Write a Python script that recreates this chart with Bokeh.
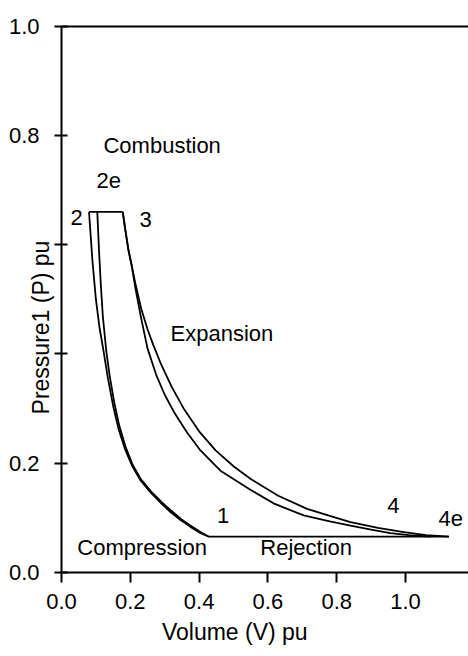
import numpy as np
from bokeh.plotting import figure
from bokeh.models import Label, Range1d, FixedTicker, LinearAxis
from bokeh.embed import file_html
from bokeh.resources import INLINE

# ---- data (V in pu, P in pu) ----
comp_a_v = [0.080, 0.090, 0.100, 0.110, 0.122, 0.135, 0.150, 0.166, 0.185, 0.205, 0.230, 0.259, 0.290, 0.317, 0.345, 0.375, 0.400, 0.428]
comp_a_p = [0.660, 0.570, 0.500, 0.450, 0.406, 0.355, 0.305, 0.262, 0.225, 0.195, 0.168, 0.146, 0.126, 0.110, 0.096, 0.083, 0.073, 0.065]

comp_b_v = [0.104, 0.109, 0.114, 0.120, 0.130, 0.140, 0.153, 0.168, 0.186, 0.206, 0.231, 0.260, 0.292, 0.320, 0.348, 0.378, 0.403, 0.428]
comp_b_p = [0.660, 0.590, 0.530, 0.470, 0.406, 0.360, 0.312, 0.268, 0.230, 0.198, 0.170, 0.148, 0.128, 0.112, 0.097, 0.084, 0.074, 0.065]

exp_a_v = [0.178, 0.186, 0.194, 0.204, 0.215, 0.230, 0.250, 0.275, 0.300, 0.330, 0.365, 0.404, 0.462, 0.549, 0.620, 0.704, 0.780, 0.840, 0.900, 0.956, 1.010, 1.073]
exp_a_p = [0.660, 0.625, 0.592, 0.562, 0.520, 0.470, 0.410, 0.362, 0.325, 0.290, 0.256, 0.223, 0.186, 0.151, 0.125, 0.104, 0.093, 0.0855, 0.078, 0.0714, 0.068, 0.065]

exp_b_v = [0.178, 0.186, 0.194, 0.204, 0.216, 0.232, 0.250, 0.267, 0.290, 0.320, 0.355, 0.400, 0.448, 0.500, 0.549, 0.630, 0.714, 0.780, 0.840, 0.920, 0.995, 1.060, 1.126]
exp_b_p = [0.660, 0.625, 0.592, 0.562, 0.525, 0.482, 0.445, 0.416, 0.380, 0.340, 0.300, 0.258, 0.223, 0.194, 0.171, 0.140, 0.116, 0.103, 0.0916, 0.081, 0.0733, 0.068, 0.065]

comb_v = [0.080, 0.178]
comb_p = [0.660, 0.660]

rej_v = [0.428, 1.126]
rej_p = [0.065, 0.065]

x_ticks = [0.0, 0.2, 0.4, 0.6, 0.8, 1.0]
x_tick_labels = ["0.0", "0.2", "0.4", "0.6", "0.8", "1.0"]
y_ticks = [0.0, 0.2, 0.4, 0.6, 0.8, 1.0]
y_tick_labels = ["0.0", "0.2", "", "", "0.8", "1.0"]

point_names = ["2", "2e", "3", "1", "4", "4e"]
point_v = [0.026, 0.102, 0.227, 0.452, 0.947, 1.096]
point_p = [0.649, 0.717, 0.646, 0.103, 0.122, 0.099]

phase_names = ["Combustion", "Expansion", "Compression", "Rejection"]
phase_v = [0.122, 0.317, 0.046, 0.578]
phase_p = [0.781, 0.437, 0.046, 0.046]

x_title = "Volume (V)  pu"
y_title = "Pressure1 (P)  pu"

FONT = "Liberation Sans"
FS = "22px"
FS_TICK = "22px"
FS_TITLE = "23px"

X0, X1 = -0.1773, 1.1831
Y0, Y1 = -0.1544, 1.0471

p = figure(width=468, height=656, x_range=Range1d(X0, X1), y_range=Range1d(Y0, Y1),
           output_backend="svg", toolbar_location=None, title=None,
           x_axis_location=None, y_axis_location=None,
           min_border_left=0, min_border_right=0, min_border_top=0, min_border_bottom=0)
p.outline_line_color = None
p.grid.visible = False
p.background_fill_color = "white"
p.border_fill_color = "white"


def style_axis(ax):
    ax.axis_line_width = 2
    ax.axis_line_color = "black"
    ax.major_tick_line_width = 2
    ax.major_tick_line_color = "black"
    ax.minor_tick_line_color = None
    ax.major_label_text_font = FONT
    ax.major_label_text_font_size = FS_TICK
    ax.major_label_text_color = "black"


xa = LinearAxis(fixed_location=0.0, bounds=(0.0, X1), ticker=FixedTicker(ticks=x_ticks),
                major_label_overrides={t: l for t, l in zip(x_ticks, x_tick_labels)},
                major_tick_in=0, major_tick_out=10, major_label_standoff=12)
style_axis(xa)
p.add_layout(xa, "below")

ya = LinearAxis(fixed_location=0.0, bounds=(0.0, 1.0), ticker=FixedTicker(ticks=y_ticks),
                major_label_overrides={t: l for t, l in zip(y_ticks, y_tick_labels)},
                major_tick_in=6, major_tick_out=7, major_label_standoff=15)
style_axis(ya)
p.add_layout(ya, "left")

ta = LinearAxis(fixed_location=1.0, bounds=(0.0, X1), ticker=FixedTicker(ticks=[]))
style_axis(ta)
p.add_layout(ta, "above")

LW = 1.8
for xs, ys in [(comp_a_v, comp_a_p), (comp_b_v, comp_b_p), (exp_a_v, exp_a_p),
               (exp_b_v, exp_b_p), (comb_v, comb_p), (rej_v, rej_p)]:
    p.line(xs, ys, line_color="black", line_width=LW)

for t, x, y in zip(point_names + phase_names, point_v + phase_v, point_p + phase_p):
    p.add_layout(Label(x=x, y=y, text=t, text_font=FONT, text_font_size=FS,
                       text_align="left", text_baseline="middle", text_color="black"))

p.add_layout(Label(x=0.513, y=-0.110, text=x_title, text_font=FONT, text_font_size=FS_TITLE,
                   text_align="center", text_baseline="middle", text_color="black"))
p.add_layout(Label(x=-0.061, y=0.454, text=y_title, text_font=FONT, text_font_size=FS_TITLE,
                   angle=np.pi / 2, text_align="center", text_baseline="middle", text_color="black"))

open("out.html", "w").write(file_html(p, INLINE))
